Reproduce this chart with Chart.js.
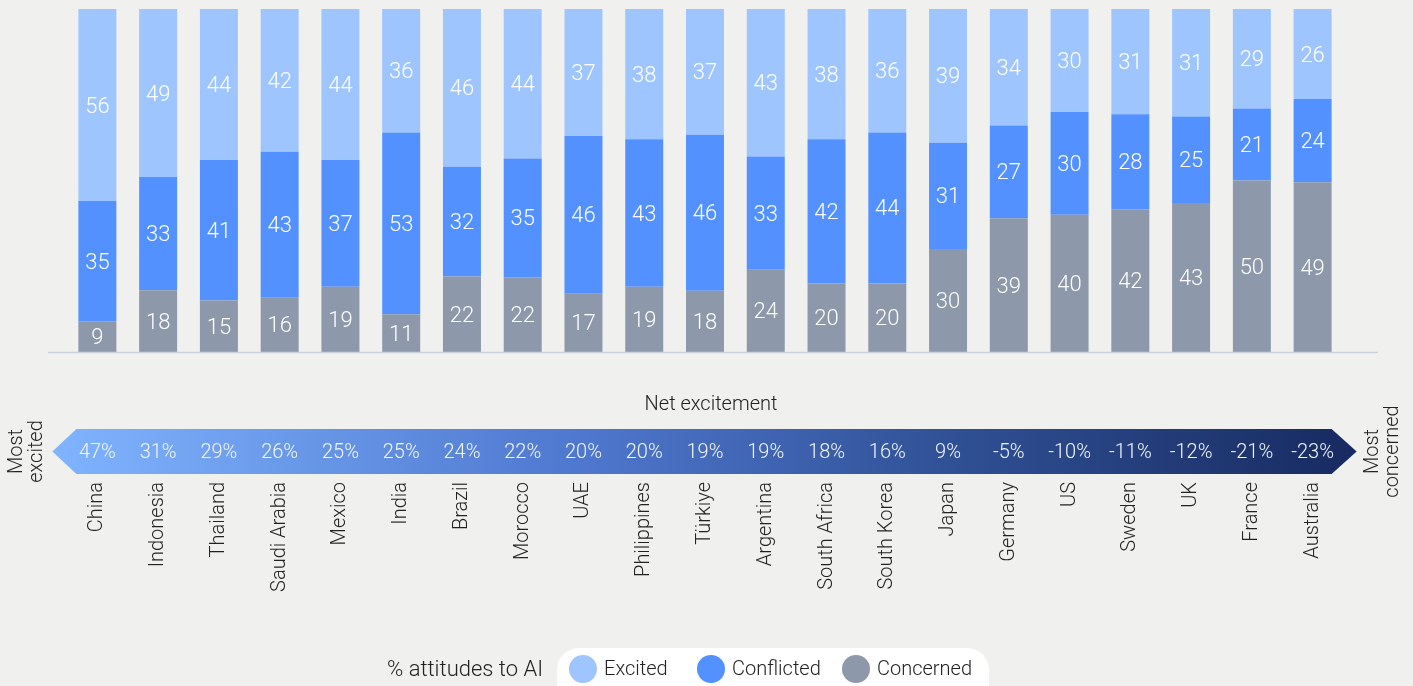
<!DOCTYPE html>
<html>
<head>
<meta charset="utf-8">
<script src="https://cdn.jsdelivr.net/npm/chart.js@4.4.1/dist/chart.umd.min.js"></script>
<style>
  html, body { margin: 0; padding: 0; background: #f0f0ee; }
  #wrap { position: relative; width: 1413px; height: 686px; }
</style>
</head>
<body>
<div id="wrap"><canvas id="chart"></canvas></div>
<script>
const countries = ["China", "Indonesia", "Thailand", "Saudi Arabia", "Mexico", "India", "Brazil",
  "Morocco", "UAE", "Philippines", "Türkiye", "Argentina", "South Africa", "South Korea", "Japan",
  "Germany", "US", "Sweden", "UK", "France", "Australia"];
const excited    = [56, 49, 44, 42, 44, 36, 46, 44, 37, 38, 37, 43, 38, 36, 39, 34, 30, 31, 31, 29, 26];
const conflicted = [35, 33, 41, 43, 37, 53, 32, 35, 46, 43, 46, 33, 42, 44, 31, 27, 30, 28, 25, 21, 24];
const concerned  = [9, 18, 15, 16, 19, 11, 22, 22, 17, 19, 18, 24, 20, 20, 30, 39, 40, 42, 43, 50, 49];
const netExcitement = ["47%", "31%", "29%", "26%", "25%", "25%", "24%", "22%", "20%", "20%", "19%",
  "19%", "18%", "16%", "9%", "-5%", "-10%", "-11%", "-12%", "-21%", "-23%"];

const FONT = "Roboto, 'Helvetica Neue', 'Liberation Sans', sans-serif";
const colors = { excited: "#9fc5ff", conflicted: "#5291ff", concerned: "#8d98ab" };

// rounded percentages don't always add to 100, so each bar is scaled to a full 100% stack
const totals = countries.map((_, i) => excited[i] + conflicted[i] + concerned[i]);
const share = (arr) => arr.map((v, i) => v / totals[i] * 100);

// white numbers in the middle of each segment (shows the raw value)
const segmentLabels = {
  id: "segmentLabels",
  afterDatasetsDraw(chart) {
    const ctx = chart.ctx;
    ctx.save();
    ctx.fillStyle = "#ffffff";
    ctx.font = "300 22px " + FONT;
    ctx.textAlign = "center";
    ctx.textBaseline = "middle";
    chart.data.datasets.forEach((ds, i) => {
      chart.getDatasetMeta(i).data.forEach((bar, j) => {
        ctx.fillText(ds.raw[j], bar.x, (bar.y + bar.base) / 2 + 2);
      });
    });
    ctx.restore();
  }
};

// baseline, net excitement arrow, side captions and legend
const extras = {
  id: "extras",
  afterDraw(chart) {
    const ctx = chart.ctx;
    const area = chart.chartArea;
    const x = chart.scales.x;
    ctx.save();

    // baseline
    ctx.strokeStyle = "#c9d3e0";
    ctx.lineWidth = 1.5;
    ctx.beginPath();
    ctx.moveTo(area.left - 19, area.bottom + 0.5);
    ctx.lineTo(area.right + 35, area.bottom + 0.5);
    ctx.stroke();

    // title
    ctx.fillStyle = "#222";
    ctx.font = "300 20px " + FONT;
    ctx.textAlign = "center";
    ctx.textBaseline = "middle";
    ctx.fillText("Net excitement", (area.left + area.right) / 2 + 6, 405);

    // arrow
    const first = x.getPixelForValue(0);
    const last = x.getPixelForValue(countries.length - 1);
    const top = 429, bot = 474, mid = (top + bot) / 2;
    const tipL = first - 45, shL = first - 21;
    const shR = last + 19, tipR = last + 44;
    const grad = ctx.createLinearGradient(tipL, 0, tipR, 0);
    grad.addColorStop(0, "#80b4ff");
    grad.addColorStop(0.4, "#4f78cf");
    grad.addColorStop(0.7, "#2f4f93");
    grad.addColorStop(1, "#172a60");
    ctx.fillStyle = grad;
    ctx.beginPath();
    ctx.moveTo(tipL, mid);
    ctx.lineTo(shL, top);
    ctx.lineTo(shR, top);
    ctx.lineTo(tipR, mid);
    ctx.lineTo(shR, bot);
    ctx.lineTo(shL, bot);
    ctx.closePath();
    ctx.fill();

    ctx.fillStyle = "#f2f6ff";
    ctx.font = "300 20px " + FONT;
    netExcitement.forEach((v, i) => {
      ctx.fillText(v, x.getPixelForValue(i), mid + 1);
    });

    // side captions
    ctx.fillStyle = "#222";
    ctx.font = "300 20px " + FONT;
    const vertical = (lines, cx) => {
      ctx.save();
      ctx.translate(cx, mid);
      ctx.rotate(-Math.PI / 2);
      lines.forEach((t, k) => ctx.fillText(t, 0, (k - (lines.length - 1) / 2) * 20));
      ctx.restore();
    };
    vertical(["Most", "excited"], 27);
    vertical(["Most", "concerned"], 1383);

    // legend
    ctx.fillStyle = "#ffffff";
    ctx.beginPath();
    ctx.roundRect(557, 648, 432, 60, 22);
    ctx.fill();
    ctx.fillStyle = "#222";
    ctx.textAlign = "right";
    ctx.font = "300 22px " + FONT;
    ctx.fillText("% attitudes to AI", 543, 670);
    ctx.font = "300 20px " + FONT;
    const items = [["Excited", colors.excited, 583], ["Conflicted", colors.conflicted, 711], ["Concerned", colors.concerned, 856]];
    ctx.textAlign = "left";
    items.forEach(([label, c, cx]) => {
      ctx.fillStyle = c;
      ctx.beginPath();
      ctx.arc(cx, 669, 14, 0, Math.PI * 2);
      ctx.fill();
      ctx.fillStyle = "#222";
      ctx.fillText(label, cx + 21, 670);
    });

    ctx.restore();
  }
};

const barStyle = { borderWidth: 0, barPercentage: 0.625, categoryPercentage: 1 };

new Chart(document.getElementById("chart"), {
  type: "bar",
  data: {
    labels: countries,
    datasets: [
      { label: "Concerned", data: share(concerned), raw: concerned, backgroundColor: colors.concerned, ...barStyle },
      { label: "Conflicted", data: share(conflicted), raw: conflicted, backgroundColor: colors.conflicted, ...barStyle },
      { label: "Excited", data: share(excited), raw: excited, backgroundColor: colors.excited, ...barStyle }
    ]
  },
  options: {
    responsive: true,
    maintainAspectRatio: false,
    animation: false,
    layout: { padding: { top: 9, left: 67, right: 70, bottom: 0 } },
    plugins: { legend: { display: false }, tooltip: { enabled: false } },
    scales: {
      x: {
        stacked: true,
        grid: { display: false, drawTicks: false },
        border: { display: false },
        ticks: {
          minRotation: 90,
          maxRotation: 90,
          padding: 130,
          color: "#222",
          font: { family: FONT, size: 20, weight: 300 }
        },
        afterFit: (s) => { s.height = 334; s.paddingLeft = 0; s.paddingRight = 0; }
      },
      y: {
        stacked: true,
        display: false,
        min: 0,
        max: 100
      }
    }
  },
  plugins: [segmentLabels, extras]
});
</script>
</body>
</html>
